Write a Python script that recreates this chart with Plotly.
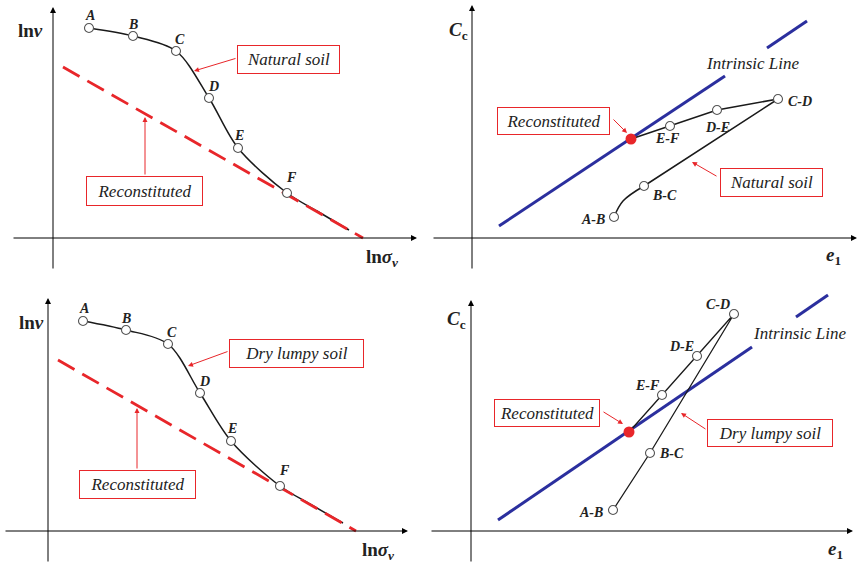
import plotly.graph_objects as go

W, H = 859, 565

# ---------------- data (units = px from each panel's axis origin) ----------------
# Panel 1 : ln v - ln sigma_v, natural soil
p1_labels = ["A", "B", "C", "D", "E", "F"]
p1_x = [36, 80, 123, 156, 185, 234]
p1_y = [210, 202, 187, 140, 90, 45]
p1_tail_x = [264, 296]
p1_tail_y = [27, 8]
p1_icl_x = [10, 310]
p1_icl_y = [171, 0]

# Panel 2 : Cc - e1, natural soil
p2_labels = ["A-B", "B-C", "C-D", "D-E", "E-F"]
p2_x = [142, 172, 306, 245, 198]
p2_y = [21, 52, 139, 128, 112]
p2_bend_x = [151]          # point on the curved A-B -> B-C part
p2_bend_y = [37]
p2_rec_x = [159]
p2_rec_y = [99]
p2_line_x = [27, 253, None, 295, 335]   # intrinsic line (gap behind its label)
p2_line_y = [12, 162, None, 190, 217]

# Panel 3 : ln v - ln sigma_v, dry lumpy soil
p3_labels = ["A", "B", "C", "D", "E", "F"]
p3_x = [35, 78, 120, 152, 183, 232]
p3_y = [210, 201, 187, 138, 90, 45]
p3_tail_x = [262, 295]
p3_tail_y = [27, 8]
p3_icl_x = [10, 308]
p3_icl_y = [171, 0]

# Panel 4 : Cc - e1, dry lumpy soil
p4_labels = ["A-B", "B-C", "C-D", "D-E", "E-F"]
p4_x = [142, 179, 263, 226, 191]
p4_y = [21, 78, 217, 175, 136]
p4_rec_x = [158]
p4_rec_y = [99]
p4_line_x = [27, 281, None, 325, 357]
p4_line_y = [11, 184, None, 214, 236]

# ---------------- styling ----------------
SERIF = "Liberation Serif"
TXT = "#222222"
RED = "#E8262A"
BLUE = "#2B2F9E"
MARK = dict(size=9, color="white", line=dict(color="#555555", width=1.1))

# panel boxes in px (x0, y0, x1, y1) and axis origin in px
panels = {
    1: dict(box=(0, 0, 430, 282), org=(53, 238)),
    2: dict(box=(430, 0, 859, 282), org=(472, 238)),
    3: dict(box=(0, 282, 430, 565), org=(48, 531)),
    4: dict(box=(430, 282, 859, 565), org=(471, 531)),
}

fig = go.Figure()
layout = dict(width=W, height=H, margin=dict(l=0, r=0, t=0, b=0),
              paper_bgcolor="white", plot_bgcolor="white", showlegend=False,
              font=dict(family=SERIF, size=14, color=TXT))
annotations = []

for k, p in panels.items():
    x0, y0, x1, y1 = p["box"]
    ox, oy = p["org"]
    sx = "" if k == 1 else str(k)
    layout["xaxis" + sx] = dict(domain=[x0 / W, x1 / W], range=[x0 - ox, x1 - ox],
                                visible=False, fixedrange=True, anchor="y" + sx)
    layout["yaxis" + sx] = dict(domain=[1 - y1 / H, 1 - y0 / H], range=[oy - y1, oy - y0],
                                visible=False, fixedrange=True, anchor="x" + sx)


def refs(k):
    return ("x", "y") if k == 1 else ("x%d" % k, "y%d" % k)


def arrow(k, xa, ya, xb, yb, color="black", width=1.0, head=2, size=1.0):
    xr, yr = refs(k)
    annotations.append(dict(x=xb, y=yb, ax=xa, ay=ya, xref=xr, yref=yr, axref=xr, ayref=yr,
                            text="", showarrow=True, arrowhead=head, arrowsize=size,
                            arrowwidth=width, arrowcolor=color, standoff=0, startstandoff=0))


def text(k, x, y, s, size=14, xshift=0, yshift=0, **kw):
    xr, yr = refs(k)
    annotations.append(dict(x=x, y=y, xref=xr, yref=yr, text=s, showarrow=False,
                            xshift=xshift, yshift=yshift,
                            font=dict(family=SERIF, size=size, color=TXT), **kw))


def box(k, cx, cy, w, h, s):
    xr, yr = refs(k)
    annotations.append(dict(x=cx, y=cy, xref=xr, yref=yr, text="<i>%s</i>" % s, showarrow=False,
                            width=w - 2, height=h - 2, borderpad=0, borderwidth=1,
                            bordercolor=RED, bgcolor="white", align="center", valign="middle",
                            font=dict(family=SERIF, size=17, color=TXT)))


def line(k, x, y, **kw):
    xr, yr = refs(k)
    fig.add_trace(go.Scatter(x=x, y=y, xaxis=xr, yaxis=yr, cliponaxis=False,
                             hoverinfo="skip", **kw))


# axes (arrows) and axis titles
axis_ext = {1: (-41, 364, -32, 231), 2: (-40, 385, -32, 233),
            3: (-44, 360, -32, 233), 4: (-41, 382, -32, 231)}
for k, (xa, xb, ya, yb) in axis_ext.items():
    arrow(k, xa, 0, xb, 0, width=1.0, head=2, size=1.2)
    arrow(k, 0, ya, 0, yb, width=1.0, head=2, size=1.2)

text(1, -23, 208, "<b>ln<i>ν</i></b>", size=19)
text(1, 329, -20, "<b>ln<i>σ</i><sub><i>v</i></sub></b>", size=19)
text(3, -17, 209, "<b>ln<i>ν</i></b>", size=19)
text(3, 330, -20, "<b>ln<i>σ</i><sub><i>v</i></sub></b>", size=19)
text(2, -14, 207, "<b><i>C</i><sub>c</sub></b>", size=19)
text(2, 361, -18, "<b><i>e</i><sub>1</sub></b>", size=19)
text(4, -15, 211, "<b><i>C</i><sub>c</sub></b>", size=19)
text(4, 364, -19, "<b><i>e</i><sub>1</sub></b>", size=19)

# ---- Panel 1 & 3: compression curves ----
lbl_off_13 = [(1, 13), (0, 12), (4, 12), (4, 12), (1, 13), (4, 16)]
for k, lx, ly, tx, ty, cx, cy, labs in [
        (1, p1_x, p1_y, p1_tail_x, p1_tail_y, p1_icl_x, p1_icl_y, p1_labels),
        (3, p3_x, p3_y, p3_tail_x, p3_tail_y, p3_icl_x, p3_icl_y, p3_labels)]:
    line(k, lx + tx, ly + ty, mode="lines", line=dict(color="#1a1a1a", width=1.5,
                                                      shape="spline", smoothing=0.9))
    line(k, cx, cy, mode="lines", line=dict(color=RED, width=2.8, dash="19px,9px"))
    line(k, lx, ly, mode="markers", marker=MARK)
    for (xx, yy, s, (dx, dy)) in zip(lx, ly, labs, lbl_off_13):
        text(k, xx, yy, "<b><i>%s</i></b>" % s, size=14, xshift=dx, yshift=dy)

# callouts panel 1
box(1, 235.5, 178.5, 103, 29, "Natural soil")
arrow(1, 184, 180, 141, 167, color=RED, width=1, head=2, size=1)
box(1, 91.5, 47, 117, 30, "Reconstituted")
arrow(1, 92, 62, 92, 121, color=RED, width=1, head=2, size=1)

# callouts panel 3
box(3, 248.5, 177.5, 135, 29, "Dry lumpy soil")
arrow(3, 181, 180, 140, 165, color=RED, width=1, head=2, size=1)
box(3, 89.5, 46.5, 117, 29, "Reconstituted")
arrow(3, 89, 61, 89, 123, color=RED, width=1, head=2, size=1)

# ---- Panel 2 ----
line(2, p2_line_x, p2_line_y, mode="lines", line=dict(color=BLUE, width=3))
text(2, 281, 175, "<i>Intrinsic Line</i>", size=17)
# A-B -> B-C curved part
line(2, [p2_x[0]] + p2_bend_x + [p2_x[1]], [p2_y[0]] + p2_bend_y + [p2_y[1]], mode="lines",
     line=dict(color="#1a1a1a", width=1.5, shape="spline", smoothing=1.0))
line(2, p2_x[1:] + p2_rec_x, p2_y[1:] + p2_rec_y, mode="lines",
     line=dict(color="#1a1a1a", width=1.5))
line(2, p2_x, p2_y, mode="markers", marker=MARK)
line(2, p2_rec_x, p2_rec_y, mode="markers", marker=dict(size=11, color=RED))
lbl_off_2 = [(-21, -2), (20, -9), (22, -2), (0, -17), (-3, -12)]
for xx, yy, s, (dx, dy) in zip(p2_x, p2_y, p2_labels, lbl_off_2):
    text(2, xx, yy, "<b><i>%s</i></b>" % s, size=14, xshift=dx, yshift=dy)
box(2, 81.5, 117.5, 113, 28, "Reconstituted")
arrow(2, 140, 120, 155, 105, color=RED, width=1, head=2, size=1)
box(2, 299.5, 55.5, 103, 29, "Natural soil")
arrow(2, 246, 61, 220, 76, color=RED, width=1, head=2, size=1)

# ---- Panel 4 ----
line(4, p4_line_x, p4_line_y, mode="lines", line=dict(color=BLUE, width=3))
text(4, 329, 197.5, "<i>Intrinsic Line</i>", size=17)
line(4, p4_x + p4_rec_x, p4_y + p4_rec_y, mode="lines", line=dict(color="#1a1a1a", width=1.3))
line(4, p4_x, p4_y, mode="markers", marker=MARK)
line(4, p4_rec_x, p4_rec_y, mode="markers", marker=dict(size=11, color=RED))
lbl_off_4 = [(-22, -2), (21, 0), (-16, 10), (-16, 10), (-15, 10)]
for xx, yy, s, (dx, dy) in zip(p4_x, p4_y, p4_labels, lbl_off_4):
    text(4, xx, yy, "<b><i>%s</i></b>" % s, size=14, xshift=dx, yshift=dy)
box(4, 76, 118, 106, 28, "Reconstituted")
arrow(4, 131, 120, 152, 107, color=RED, width=1, head=2, size=1)
box(4, 299, 98, 126, 28, "Dry lumpy soil")
arrow(4, 236, 101, 210, 118, color=RED, width=1, head=2, size=1)

layout["annotations"] = annotations
fig.update_layout(**layout)
fig.write_html("out.html", config={"displayModeBar": False, "staticPlot": True},
               post_script="document.body.style.margin='0px';")
